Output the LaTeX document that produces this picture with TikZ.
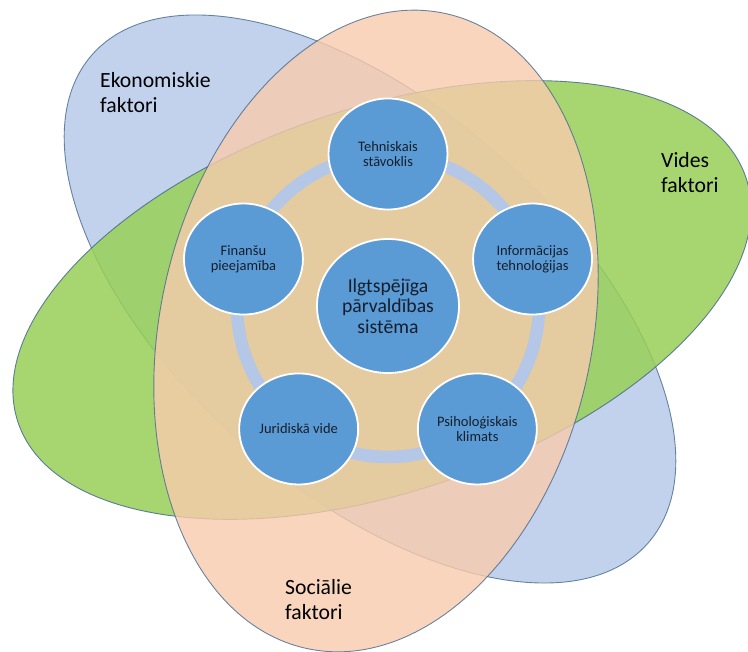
\documentclass[tikz,border=0pt]{standalone}
\usepackage{fontspec}
\setmainfont{Carlito}
\usepackage{xcolor}
\usepackage{tikz}
\usetikzlibrary{calc}
\usetikzlibrary{shapes.geometric}

\definecolor{ekoblue}{HTML}{B4C7E7}
\definecolor{vidgreen}{RGB}{152,207,87}
\definecolor{socorange}{HTML}{F8CBAD}
\definecolor{edgeblue}{RGB}{70,106,142}
\definecolor{dotblue}{HTML}{5B9BD5}
\definecolor{ringblue}{HTML}{B4C7E7}
\definecolor{txtdark}{RGB}{22,30,44}

\tikzset{
	factor/.style={draw=edgeblue, line width=0.9pt},
	bubble/.style={ellipse, draw=white, line width=1.8pt, fill=dotblue,
		minimum width=119pt, minimum height=111pt, inner sep=0pt,
		align=center, text=txtdark, font=\fontsize{14.5}{15}\selectfont},
	factorlabel/.style={anchor=west, align=left, inner sep=0pt,
		text=black, font=\fontsize{21.7}{25}\selectfont}
}

\begin{document}
\begin{tikzpicture}[x=1pt,y=1pt]
	\useasboundingbox (0,0) rectangle (748,652);
	% three factor ellipses
	\draw[factor, fill=ekoblue, opacity=0.8, rotate around={-41.3:(370,353)}] (370,353) ellipse [x radius=370pt, y radius=193pt];
	\draw[factor, fill=vidgreen, opacity=0.85, rotate around={18.6:(382,352)}] (382,352) ellipse [x radius=384pt, y radius=192pt];
	\draw[factor, fill=socorange, opacity=0.8, rotate around={77.65:(376,321)}] (376,321) ellipse [x radius=325pt, y radius=216pt];
	% ring behind the bubbles
	\coordinate (mid) at (388,346);
	\draw[ringblue, line width=12.5pt] (mid) circle [radius=151pt];
	\node[bubble, minimum width=142pt, minimum height=134pt, font=\fontsize{19.7}{20.5}\selectfont] (core) at (mid) {Ilgtspējīga\\pārvaldības\\sistēma};
	\foreach \ang/\name/\txt in {90/tech/{Tehniskais\\stāvoklis}, 18/info/{Informācijas\\tehnoloģijas}, -54/psych/{Psiholoģiskais\\klimats}, -126/legal/{Juridiskā vide}, 162/finance/{Finanšu\\pieejamība}}
		\node[bubble] (\name) at ($(mid)+(\ang:152pt)$) {\txt};
	% factor names
	\node[factorlabel] (eko) at (100,559.5) {Ekonomiskie\\faktori};
	\node[factorlabel] (vid) at (661,479.5) {Vides\\faktori};
	\node[factorlabel] (soc) at (285,52.5) {Sociālie\\faktori};
\end{tikzpicture}
\end{document}
